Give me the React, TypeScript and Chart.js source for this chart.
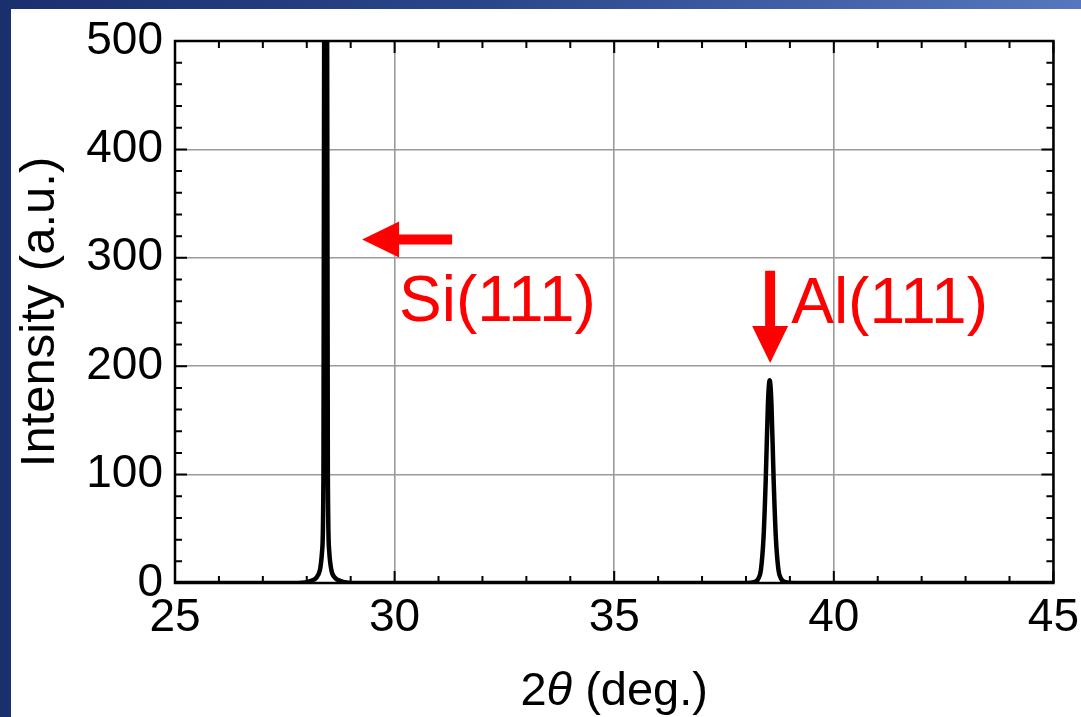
import React, { useEffect, useRef } from 'react';
import { Chart, registerables } from 'chart.js';

Chart.register(...registerables);

// ---- data ----
const twoTheta = [
  25, 27.8, 28.1, 28.22, 28.3, 28.35, 28.38, 28.4, 28.43, 28.46, 28.48, 28.51, 28.56, 28.64, 28.76, 29.1,
  38.0, 38.2, 38.28, 38.34, 38.4, 38.45, 38.5, 38.54, 38.58, 38.63, 38.68, 38.74, 38.8, 38.88, 39.1,
  45,
];
const intensity = [
  0, 0, 2, 5, 12, 30, 100, 600, 3000, 600, 100, 30, 12, 5, 2, 0,
  0, 1, 4, 12, 42, 95, 165, 187, 165, 95, 42, 12, 4, 1, 0,
  0,
];
const xTickLabels = [25, 30, 35, 40, 45];
const yTickLabels = [0, 100, 200, 300, 400, 500];
const peakLabels = ['Si(111)', 'Al(111)'];
// annotation anchors in data units: [arrow tip x, arrow tip y, arrow tail x, arrow tail y, text x, text y]
const siAnnotation = [29.26, 317, 31.31, 317, 30.1, 242];
const alAnnotation = [38.55, 203, 38.55, 288, 39.03, 240];

const FONT = '"Liberation Sans", Arial, Helvetica, sans-serif';

function drawArrow(ctx: CanvasRenderingContext2D, tx: number, ty: number, fx: number, fy: number) {
  const shaft = 10;
  const headLen = 37;
  const headW = 36;
  const ang = Math.atan2(ty - fy, tx - fx);
  const len = Math.hypot(tx - fx, ty - fy);
  ctx.save();
  ctx.translate(fx, fy);
  ctx.rotate(ang);
  ctx.beginPath();
  ctx.moveTo(0, -shaft / 2);
  ctx.lineTo(len - headLen, -shaft / 2);
  ctx.lineTo(len - headLen, -headW / 2);
  ctx.lineTo(len, 0);
  ctx.lineTo(len - headLen, headW / 2);
  ctx.lineTo(len - headLen, shaft / 2);
  ctx.lineTo(0, shaft / 2);
  ctx.closePath();
  ctx.fill();
  ctx.restore();
}

const frameTicksPlugin = {
  id: 'frameTicks',
  afterDatasetsDraw(chart: any) {
    const { ctx, chartArea: a, scales } = chart;
    const x = scales.x;
    const y = scales.y;
    ctx.save();
    ctx.strokeStyle = '#000';
    ctx.lineWidth = 2;
    ctx.beginPath();
    const xMin = xTickLabels[0];
    const xMax = xTickLabels[xTickLabels.length - 1];
    for (let v = xMin; v <= xMax + 1e-9; v += 1) {
      const major = Math.abs(v % 5) < 1e-9;
      const L = major ? 12 : 7;
      const px = x.getPixelForValue(v);
      ctx.moveTo(px, a.bottom);
      ctx.lineTo(px, a.bottom - L);
      ctx.moveTo(px, a.top);
      ctx.lineTo(px, a.top + L);
    }
    const yMin = yTickLabels[0];
    const yMax = yTickLabels[yTickLabels.length - 1];
    for (let v = yMin; v <= yMax + 1e-9; v += 20) {
      const major = Math.abs(v % 100) < 1e-9;
      const L = major ? 12 : 7;
      const py = y.getPixelForValue(v);
      ctx.moveTo(a.left, py);
      ctx.lineTo(a.left + L, py);
      ctx.moveTo(a.right, py);
      ctx.lineTo(a.right - L, py);
    }
    ctx.stroke();
    ctx.lineWidth = 2.5;
    ctx.strokeRect(a.left, a.top, a.right - a.left, a.bottom - a.top);

    // annotations
    ctx.fillStyle = '#ff0000';
    const anns = [siAnnotation, alAnnotation];
    anns.forEach((an, i) => {
      drawArrow(
        ctx,
        x.getPixelForValue(an[0]),
        y.getPixelForValue(an[1]),
        x.getPixelForValue(an[2]),
        y.getPixelForValue(an[3])
      );
      ctx.font = `64px ${FONT}`;
      ctx.textAlign = 'left';
      ctx.textBaseline = 'alphabetic';
      ctx.fillText(peakLabels[i], x.getPixelForValue(an[4]), y.getPixelForValue(an[5]));
    });
    ctx.restore();
  },
  afterDraw(chart: any) {
    // x-axis title with italic theta
    const { ctx, chartArea: a } = chart;
    ctx.save();
    ctx.fillStyle = '#000';
    ctx.textBaseline = 'alphabetic';
    ctx.textAlign = 'left';
    const up = `47px ${FONT}`;
    const it = `italic 47px ${FONT}`;
    const parts: [string, string][] = [['2', up], ['\u03B8', it], [' (deg.)', up]];
    let total = 0;
    parts.forEach(([t, f]) => { ctx.font = f; total += ctx.measureText(t).width; });
    let cx = (a.left + a.right) / 2 - total / 2;
    const baseY = a.bottom + 122;
    parts.forEach(([t, f]) => {
      ctx.font = f;
      ctx.fillText(t, cx, baseY);
      cx += ctx.measureText(t).width;
    });
    ctx.restore();
  },
};

export default function App() {
  const ref = useRef<HTMLCanvasElement | null>(null);

  useEffect(() => {
    if (!ref.current) return;
    const points = twoTheta.map((t, i) => ({ x: t, y: intensity[i] }));
    const chart = new Chart(ref.current, {
      type: 'line',
      data: {
        datasets: [
          {
            data: points,
            borderColor: '#000',
            borderWidth: 4.5,
            pointRadius: 0,
            fill: false,
            cubicInterpolationMode: 'monotone',
            borderJoinStyle: 'round',
            borderCapStyle: 'round',
          },
        ],
      },
      options: {
        animation: false,
        responsive: false,
        events: [],
        layout: { padding: { top: 0, right: 0, left: 0, bottom: 0 } },
        plugins: {
          legend: { display: false },
          tooltip: { enabled: false },
          title: { display: false },
        },
        scales: {
          x: {
            type: 'linear',
            min: xTickLabels[0],
            max: xTickLabels[xTickLabels.length - 1],
            afterBuildTicks: (axis: any) => {
              axis.ticks = xTickLabels.map((v) => ({ value: v }));
            },
            afterFit: (axis: any) => {
              axis.height = 134;
            },
            grid: { color: '#9a9a9a', lineWidth: 1.6, drawTicks: false },
            border: { display: false },
            ticks: {
              color: '#000',
              padding: 2,
              maxRotation: 0,
              autoSkip: false,
              font: { family: FONT, size: 46, lineHeight: 1.46 },
              callback: (v: any) => String(v),
            },
            title: { display: false },
          },
          y: {
            type: 'linear',
            min: yTickLabels[0],
            max: yTickLabels[yTickLabels.length - 1],
            afterBuildTicks: (axis: any) => {
              axis.ticks = yTickLabels.map((v) => ({ value: v }));
            },
            afterFit: (axis: any) => {
              axis.width = 164;
            },
            grid: { color: '#9a9a9a', lineWidth: 1.6, drawTicks: false },
            border: { display: false },
            ticks: {
              color: '#000',
              padding: 12,
              autoSkip: false,
              font: { family: FONT, size: 46, lineHeight: 0.87 },
              callback: (v: any) => String(v),
            },
            title: {
              display: true,
              text: 'Intensity (a.u.)',
              color: '#000',
              font: { family: FONT, size: 49 },
              padding: { top: 0, bottom: 0 },
            },
          },
        },
      },
      plugins: [frameTicksPlugin],
    } as any);
    return () => chart.destroy();
  }, []);

  return (
    <div
      style={{
        position: 'fixed',
        left: 0,
        top: 0,
        width: 1081,
        height: 717,
        background: 'linear-gradient(to right, #1a2f6e 0%, #2a468b 45%, #5677bf 100%)',
        overflow: 'hidden',
      }}
    >
      <div style={{ position: 'absolute', left: 11, top: 9, width: 1070, height: 708, background: '#fff' }}>
        <canvas ref={ref} width={1070} height={708} style={{ width: 1070, height: 708, display: 'block' }} />
      </div>
    </div>
  );
}
